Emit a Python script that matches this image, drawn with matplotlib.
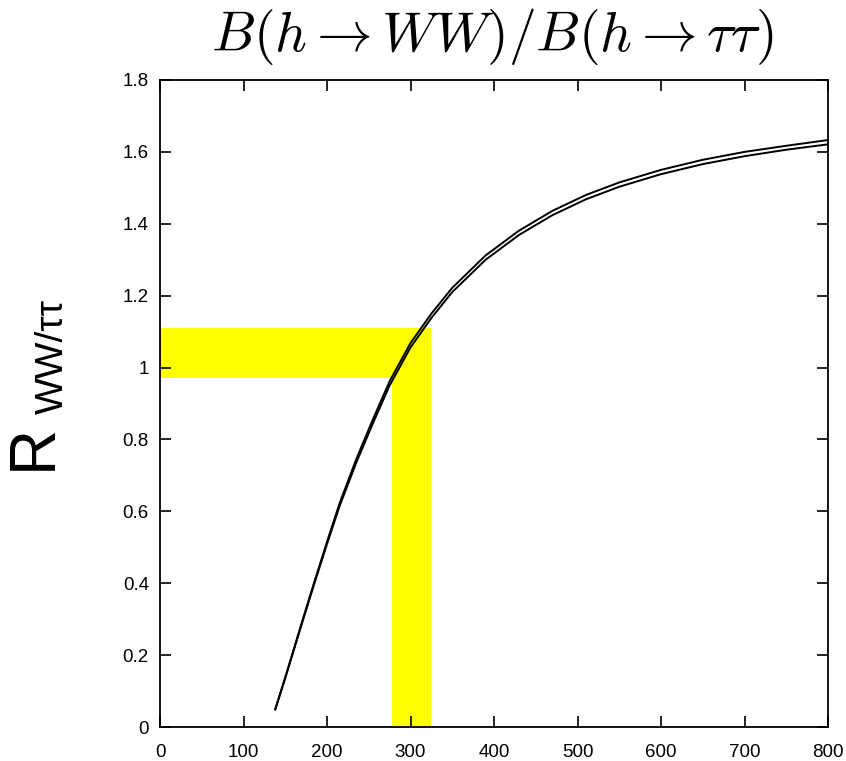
import matplotlib.pyplot as plt
from matplotlib.ticker import FuncFormatter

plt.rcParams['mathtext.fontset'] = 'cm'
plt.rcParams['font.family'] = ['Liberation Sans', 'DejaVu Sans']

# Higgs mass (GeV) and the two edges of the R_WW/tautau band
mh = [138, 150, 170, 185, 200, 215, 235, 255, 275, 300, 325, 350, 390,
      430, 470, 510, 550, 600, 650, 700, 750, 800]
r_upper = [0.050, 0.138, 0.292, 0.405, 0.515, 0.622, 0.745, 0.856, 0.962,
           1.068, 1.150, 1.222, 1.312, 1.381, 1.436, 1.480, 1.515, 1.550,
           1.578, 1.600, 1.617, 1.633]
r_lower = [0.048, 0.136, 0.288, 0.400, 0.509, 0.614, 0.735, 0.845, 0.950,
           1.056, 1.138, 1.210, 1.300, 1.369, 1.424, 1.468, 1.503, 1.538,
           1.566, 1.588, 1.606, 1.621]

# measured ratio band and corresponding mass band
r_band = (0.97, 1.11)
mh_band = (278, 325)

fig = plt.figure(figsize=(8.46, 7.61), dpi=100)
ax = fig.add_axes([160 / 846, 34 / 761, 668 / 846, 647 / 761])

ax.fill_between([0, mh_band[1]], r_band[0], r_band[1], color='#ffff00', lw=0, zorder=1)
ax.fill_between([mh_band[0], mh_band[1]], 0, r_band[1], color='#ffff00', lw=0, zorder=1)

ax.plot(mh, r_upper, color='black', lw=1.4, zorder=3)
ax.plot(mh, r_lower, color='black', lw=1.4, zorder=3)

ax.set_xlim(0, 800)
ax.set_ylim(0, 1.8)
ax.set_xticks(range(0, 801, 100))
ax.set_yticks([0, 0.2, 0.4, 0.6, 0.8, 1.0, 1.2, 1.4, 1.6, 1.8])
ax.yaxis.set_major_formatter(FuncFormatter(lambda v, p: '%g' % round(v, 1)))
ax.tick_params(direction='in', length=8, width=1.2, top=True, right=True,
               labelsize=13.5, pad=8)
ax.tick_params(axis='x', pad=12)
for s in ax.spines.values():
    s.set_linewidth(1.3)

fig.text(0.582, 0.952, r'$B(h\rightarrow WW)/B(h\rightarrow \tau\tau)$',
         ha='center', va='center', fontsize=40)

fig.text(34 / 846, 1 - 447 / 761, 'R', rotation=90, ha='center', va='center',
         fontsize=46)
fig.text(53 / 846, 1 - 356 / 761, 'WW/ττ', rotation=90, ha='center', va='center',
         fontsize=28)

plt.savefig('out.png', dpi=100)
